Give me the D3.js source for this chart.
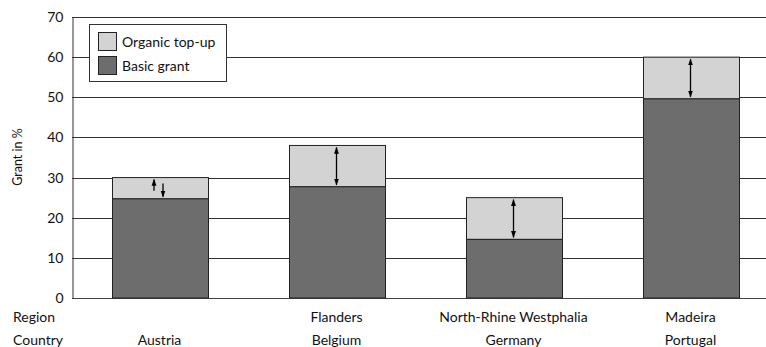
<!DOCTYPE html>
<html><head><meta charset="utf-8">
<script src="https://cdn.jsdelivr.net/npm/d3@7"></script>
<style>body{margin:0;background:#fff}svg{display:block}text{font-family:Lato,"Open Sans",sans-serif;fill:#111}</style>
</head><body><svg id="c" width="766" height="347"></svg>
<script>
const countries = ["Austria","Belgium","Germany","Portugal"];
const regions = ["","Flanders","North-Rhine Westphalia","Madeira"];
const basicGrant = [24.7, 27.7, 14.6, 49.6];
const totalGrant = [30, 38, 25, 60];
const arrowStyle = ["split","double","double","double"];
const yTicks = [0,10,20,30,40,50,60,70];
const seriesNames = ["Organic top-up","Basic grant"];

const svg = d3.select("#c");
const x = d3.scaleBand().domain(countries).range([71, 779]).paddingInner(0.46).paddingOuter(0.23);
const y = d3.scaleLinear().domain([0,70]).range([298, 17]);

const defs = svg.append("defs");
defs.append("marker").attr("id","ah").attr("viewBox","0 0 10 10").attr("refX",9).attr("refY",5)
  .attr("markerWidth",7).attr("markerHeight",7).attr("orient","auto-start-reverse").attr("markerUnits","userSpaceOnUse")
  .append("path").attr("d","M0,1.5 L10,5 L0,8.5 Z").attr("fill","#000");

svg.append("g").selectAll("line").data(yTicks).join("line")
  .attr("x1",72).attr("x2",766).attr("y1",d=>Math.round(y(d))+0.5).attr("y2",d=>Math.round(y(d))+0.5)
  .attr("stroke",d=>d===0?"#444":"#333").attr("stroke-width",1);
const yAxis = d3.axisLeft(y).tickValues(yTicks).tickSize(0).tickPadding(9);
const ga = svg.append("g").attr("transform","translate(72.5,0)").call(yAxis);
ga.select(".domain").attr("stroke","#333");
ga.selectAll("text").style("font-family","Lato, 'Open Sans', sans-serif").style("font-size","14px").attr("fill","#111");

svg.append("text").attr("transform","translate(22,157) rotate(-90)").attr("text-anchor","middle")
  .style("font-size","12.5px").text("Grant in %");

const g = svg.append("g");
countries.forEach((c,i)=>{
  const bx = Math.round(x(c))+0.5, bw = Math.round(x.bandwidth());
  g.append("rect").attr("x",bx).attr("width",bw).attr("y",y(totalGrant[i])).attr("height",y(basicGrant[i])-y(totalGrant[i]))
    .attr("fill","#d3d3d3").attr("stroke","#222").attr("stroke-width",1);
  g.append("rect").attr("x",bx).attr("width",bw).attr("y",y(basicGrant[i])).attr("height",y(0)-y(basicGrant[i]))
    .attr("fill","#6d6d6d").attr("stroke","#222").attr("stroke-width",1);
  const cx = x(c)+x.bandwidth()/2;
  const yt = y(totalGrant[i]), yb = y(basicGrant[i]);
  if(arrowStyle[i]==="double"){
    g.append("line").attr("x1",cx).attr("x2",cx).attr("y1",yt+2).attr("y2",yb-2)
      .attr("stroke","#000").attr("stroke-width",1.3).attr("marker-start","url(#ah)").attr("marker-end","url(#ah)");
  } else {
    g.append("line").attr("x1",cx-5.5).attr("x2",cx-5.5).attr("y1",yb-8).attr("y2",yt+2)
      .attr("stroke","#000").attr("stroke-width",1.3).attr("marker-end","url(#ah)");
    g.append("line").attr("x1",cx+3.5).attr("x2",cx+3.5).attr("y1",yt+6).attr("y2",yb-2)
      .attr("stroke","#000").attr("stroke-width",1.3).attr("marker-end","url(#ah)");
  }
  svg.append("text").attr("x",cx).attr("y",322).attr("text-anchor","middle").style("font-size","14px").text(regions[i]);
  svg.append("text").attr("x",cx).attr("y",345).attr("text-anchor","middle").style("font-size","14px").text(c);
});
svg.append("text").attr("x",13).attr("y",322).style("font-size","14px").text("Region");
svg.append("text").attr("x",13).attr("y",345).style("font-size","14px").text("Country");

const lg = svg.append("g");
lg.append("rect").attr("x",89.5).attr("y",24.5).attr("width",137).attr("height",57).attr("fill","#fff").attr("stroke","#333");
const lcol = ["#d3d3d3","#6d6d6d"];
seriesNames.forEach((s,i)=>{
  lg.append("rect").attr("x",98.5).attr("y",32.5+i*24).attr("width",18).attr("height",18).attr("fill",lcol[i]).attr("stroke","#222");
  lg.append("text").attr("x",122).attr("y",46.5+i*24).style("font-size","14px").text(s);
});
</script></body></html>
